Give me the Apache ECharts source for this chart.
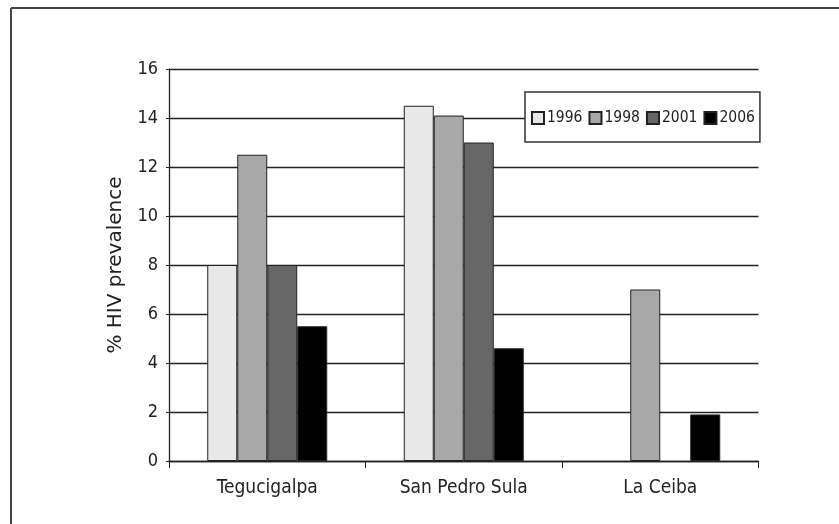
<!DOCTYPE html>
<html>
<head>
<meta charset="utf-8">
<script src="https://cdn.jsdelivr.net/npm/echarts@6/dist/echarts.min.js"></script>
<style>html,body{margin:0;padding:0;background:#fff}#c{width:839px;height:524px}</style>
</head>
<body>
<div id="c"></div>
<script>
const categories = ['Tegucigalpa', 'San Pedro Sula', 'La Ceiba'];
const years = ['1996', '1998', '2001', '2006'];
const v1996 = [8, 14.5, null];
const v1998 = [12.5, 14.1, 7];
const v2001 = [8, 13, null];
const v2006 = [5.5, 4.6, 1.9];
const yTicks = [0, 2, 4, 6, 8, 10, 12, 14, 16];
const yTitle = '% HIV prevalence';

const seriesValues = [v1996, v1998, v2001, v2006];
const colors = ['#e8e8e8', '#a8a8a8', '#666666', '#000000'];
const narrow = "'Liberation Sans Narrow', 'DejaVu Sans Condensed', 'Roboto Condensed', 'Liberation Sans', sans-serif";

const chart = echarts.init(document.getElementById('c'), null, {renderer: 'canvas'});
chart.setOption({
  animation: false,
  backgroundColor: '#fff',
  graphic: [
    {type: 'line', shape: {x1: 11, y1: 8, x2: 839, y2: 8}, style: {stroke: '#444', lineWidth: 2}},
    {type: 'line', shape: {x1: 11, y1: 8, x2: 11, y2: 524}, style: {stroke: '#444', lineWidth: 2}}
  ],
  legend: {
    data: years,
    left: 525,
    top: 92,
    orient: 'horizontal',
    itemWidth: 12,
    itemHeight: 12,
    itemGap: 6,
    padding: [18, 5, 16, 6],
    backgroundColor: '#fff',
    borderColor: '#333',
    borderWidth: 1.5,
    icon: 'rect',
    textStyle: {fontFamily: narrow, fontSize: 15.5, color: '#222', padding: [0, 0, 0, -2]}
  },
  grid: {left: 169, right: 80.5, top: 69, bottom: 63, containLabel: false},
  xAxis: {
    type: 'category',
    data: categories,
    axisLine: {lineStyle: {color: '#222', width: 1.3}},
    axisTick: {show: true, length: 7, lineStyle: {color: '#222'}},
    axisLabel: {fontFamily: narrow, fontSize: 19, color: '#222', margin: 18}
  },
  yAxis: {
    type: 'value',
    min: yTicks[0],
    max: yTicks[yTicks.length - 1],
    interval: yTicks[1] - yTicks[0],
    name: yTitle,
    nameLocation: 'middle',
    nameGap: 43,
    nameTextStyle: {fontFamily: "'DejaVu Sans', sans-serif", fontSize: 20, color: '#222'},
    axisLine: {show: true, lineStyle: {color: '#222', width: 1.3}},
    axisTick: {show: true, length: 3, lineStyle: {color: '#222'}},
    axisLabel: {fontFamily: narrow, fontSize: 18, color: '#222', margin: 11},
    splitLine: {show: true, lineStyle: {color: '#222', width: 1.3}}
  },
  series: years.map((y, i) => ({
    name: y,
    type: 'bar',
    data: seriesValues[i],
    barWidth: 30,
    barGap: '0%',
    itemStyle: {color: colors[i], borderColor: '#222', borderWidth: 1}
  }))
});
</script>
</body>
</html>
